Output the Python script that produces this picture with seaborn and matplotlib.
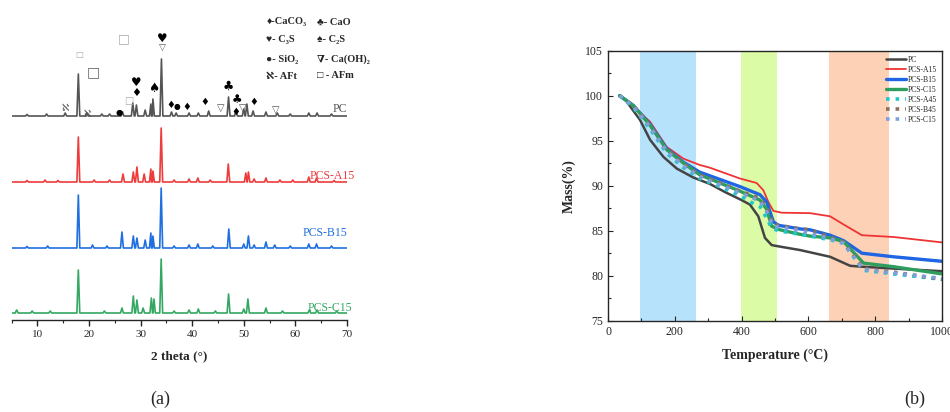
import numpy as np
import matplotlib
matplotlib.use("Agg")
import matplotlib.pyplot as plt
import seaborn as sns

# ---------------- XRD data (2 theta, peak height above baseline) ----------------
pc_pos = [8.0, 11.8, 15.4, 17.95, 19.6, 22.5, 24.0, 26.5, 28.5, 29.2, 30.9, 32.0, 32.4,
          34.05, 36.0, 36.9, 39.4, 41.2, 43.2, 47.05, 48.5, 50.0, 50.6, 51.8, 54.3,
          56.5, 59.0, 62.6, 64.2, 67.0]
pc_h = [1.5, 2, 3, 42, 3, 2, 2, 4, 13, 11, 6, 12, 17,
        57, 4, 3, 3, 3, 5, 19, 6, 7, 12, 5, 4,
        3, 2, 3, 3, 2]

a15_pos = [8.0, 11.5, 14.0, 17.95, 21.0, 24.0, 26.6, 28.6, 29.3, 30.7, 32.0, 32.4,
           34.0, 36.5, 39.4, 41.1, 43.5, 47.0, 50.4, 50.9, 52.0, 54.3, 57.0,
           59.5, 62.6, 64.1, 67.5]
a15_h = [1.5, 2, 1.5, 45, 2, 2, 8, 10, 15, 8, 13, 11,
         54, 2, 3, 4, 2, 18, 9, 10, 3, 4, 2,
         2, 5, 4, 1.5]

b15_pos = [8.0, 12.0, 17.95, 20.7, 23.5, 26.4, 28.6, 29.3, 30.9, 32.0, 32.4,
           34.0, 36.5, 39.4, 41.1, 44.0, 47.1, 50.0, 50.9, 52.0, 54.3, 56.0,
           59.0, 62.6, 64.1, 67.0]
b15_h = [1.5, 2, 53, 3, 2, 16, 12, 10, 8, 15, 12,
         60, 2, 3, 4, 2, 19, 4, 12, 3, 6, 3,
         2, 4, 4, 2]

c15_pos = [6.0, 9.0, 12.5, 17.95, 23.0, 26.4, 28.6, 29.3, 30.5, 32.1, 32.6,
           34.0, 36.5, 39.4, 41.2, 44.5, 47.05, 50.0, 50.8, 54.3, 57.5,
           62.7, 64.2, 68.0]
c15_h = [3, 2, 2, 43, 2, 5, 17, 13, 5, 15, 14,
         54, 2, 3, 4, 2, 19, 4, 14, 5, 2,
         3, 3, 2]

xrd_names = ["PC", "PCS-A15", "PCS-B15", "PCS-C15"]
xrd_offsets = [204, 138, 72, 7]
xrd_colors = ["#555555", "#ee3b3b", "#1f6fe0", "#34a862"]

# phase markers: (2 theta, height in panel units, glyph, size, colour)
marks = [
    (15.4, 212, "ℵ", 7, "#555555"), (19.6, 206, "ℵ", 7, "#555555"),
    (18.1, 265, "□", 6, "#aaaaaa"), (26.7, 281, "□", 9, "#aaaaaa"),
    (20.8, 248, "□", 10, "#666666"), (27.7, 219, "□", 7, "#aaaaaa"),
    (34.2, 281, "♥", 8.5, "black"), (34.2, 272, "▽", 6.5, "#555555"),
    (29.2, 238, "♥", 8.5, "black"), (29.2, 227, "♦", 8, "black"),
    (32.6, 231, "♠", 9, "black"), (25.9, 207, "●", 6, "black"),
    (35.8, 215, "♦", 7, "black"), (37.1, 213, "●", 5.5, "black"),
    (39.0, 213, "♦", 7, "black"), (42.5, 218, "♦", 7, "black"),
    (45.6, 212, "▽", 7, "#555555"), (47.0, 234, "♣", 9, "black"),
    (48.7, 220, "♣", 8.5, "black"), (48.4, 208, "♦", 7, "black"),
    (49.8, 212, "▽", 7, "#555555"), (52.0, 218, "♦", 7, "black"),
    (56.2, 210, "▽", 7, "#555555"),
]
phase_legend = [
    (54.4, 298, "♦-CaCO₃"), (64.1, 298, "♣- CaO"),
    (54.4, 280, "♥- C₃S"), (64.1, 280, "♠- C₂S"),
    (54.4, 261, "●- SiO₂"), (64.1, 261, "∇- Ca(OH)₂"),
    (54.4, 244, "ℵ- AFt"), (64.1, 244, "□ - AFm"),
]

# ---------------- TGA data (temperature, mass %) ----------------
tga = {
    "PC": ([35, 51, 96, 126, 166, 206, 256, 305, 350, 400, 425, 450, 470, 490, 520,
            575, 665, 725, 760, 850, 1000],
           [100, 99.6, 97.3, 95.1, 93.2, 91.9, 90.9, 90.2, 89.3, 88.4, 87.9, 86.6, 84.2,
            83.4, 83.2, 82.85, 82.1, 81.1, 81.0, 80.8, 80.5]),
    "PCS-A15": ([35, 76, 126, 176, 226, 275, 305, 350, 395, 445, 465, 480, 495, 520,
                 605, 665, 705, 760, 855, 1000],
                [100, 98.8, 97.1, 94.3, 93.0, 92.3, 92.0, 91.4, 90.8, 90.3, 89.5, 88.2,
                 87.2, 87.0, 86.95, 86.6, 85.7, 84.5, 84.3, 83.7]),
    "PCS-B15": ([35, 76, 126, 176, 226, 275, 335, 395, 455, 475, 495, 510, 575, 605,
                 665, 705, 760, 855, 1000],
                [100, 98.9, 96.8, 94.1, 92.6, 91.5, 90.7, 89.9, 89.0, 88.2, 86.0, 85.6,
                 85.2, 85.1, 84.5, 83.9, 82.5, 82.1, 81.6]),
    "PCS-C15": ([35, 76, 126, 176, 226, 275, 335, 395, 455, 475, 490, 515, 575, 605,
                 665, 705, 765, 855, 1000],
                [100, 98.9, 96.7, 94.0, 92.5, 91.2, 90.3, 89.4, 88.4, 87.4, 85.5, 85.1,
                 84.6, 84.4, 84.2, 83.8, 81.4, 81.0, 80.2]),
    "PCS-A45": ([35, 76, 126, 176, 226, 275, 335, 395, 425, 455, 475, 490, 510, 575,
                 665, 705, 765, 855, 1000],
                [100, 98.7, 96.3, 93.6, 92.0, 90.8, 89.9, 88.9, 88.2, 87.7, 86.4, 85.3,
                 85.0, 84.6, 84.0, 83.6, 80.6, 80.2, 79.6]),
    "PCS-B45": ([35, 76, 126, 176, 226, 275, 335, 395, 455, 475, 495, 575, 605, 665,
                 705, 765, 855, 1000],
                [100, 98.9, 96.6, 93.9, 92.4, 91.2, 90.3, 89.4, 88.6, 87.6, 85.7, 85.2,
                 85.1, 84.3, 83.7, 80.8, 80.4, 79.6]),
    "PCS-C15 ": ([35, 76, 126, 176, 226, 275, 335, 395, 455, 475, 495, 575, 665, 705,
                  765, 855, 1000],
                 [100, 98.8, 96.5, 93.8, 92.2, 91.0, 90.1, 89.2, 88.3, 87.1, 85.5, 85.0,
                  84.1, 83.6, 80.7, 80.3, 79.7]),
}
tga_styles = {
    "PC": ("#444444", 1.8, "-"),
    "PCS-A15": ("#ee3333", 1.3, "-"),
    "PCS-B15": ("#1f66e5", 2.4, "-"),
    "PCS-C15": ("#2e9e5e", 2.4, "-"),
    "PCS-A45": ("#1fc8c8", 2.6, ":"),
    "PCS-B45": ("#8b6f5e", 2.6, ":"),
    "PCS-C15 ": ("#7fa0e0", 2.6, ":"),
}
spans = [(95, 262, "#b7e2fb"), (398, 505, "#dcfba6"), (663, 840, "#fdd1b5")]

# ---------------- figure ----------------
sns.set_style("ticks")
serif = ["Liberation Serif", "DejaVu Serif", "DejaVu Sans"]
plt.rcParams["font.family"] = serif
plt.rcParams["axes.unicode_minus"] = False

fig = plt.figure(figsize=(9.5, 4.12), dpi=100)
W, H = 950, 412

# (a) XRD
ax1 = fig.add_axes([11.5 / W, (H - 320) / H, (347 - 11.5) / W, 310 / H])


def pattern(pos, hts, offset, hw=0.28):
    xs = [5.0, 70.0]
    ys = [offset, offset]
    for p, h in zip(pos, hts):
        xs += [p - hw, p, p + hw]
        ys += [offset, offset + h, offset]
    order = np.argsort(xs)
    return np.array(xs)[order], np.array(ys)[order]


xrd_peaks = [(pc_pos, pc_h), (a15_pos, a15_h), (b15_pos, b15_h), (c15_pos, c15_h)]
for (pos, hts), off, col in zip(xrd_peaks, xrd_offsets, xrd_colors):
    xs, ys = pattern(pos, hts, off)
    sns.lineplot(x=xs, y=ys, ax=ax1, color=col, lw=1.2, sort=False, estimator=None)

label_pos = [(70.1, 211), (71.6, 144), (70.0, 87), (71.1, 12)]
for (lx, ly), name, col in zip(label_pos, xrd_names, xrd_colors):
    ax1.text(lx, ly, name, color=col, ha="right", va="center", fontsize=8.5)

for x, y, s, sz, c in marks:
    ax1.text(x, y, s, ha="center", va="center", fontsize=sz, color=c,
             family=["DejaVu Sans"])

for x, y, s in phase_legend:
    ax1.text(x, y, s, ha="left", va="center", fontsize=7.5, fontweight="bold",
             family=serif)

ax1.set_xlim(5, 70)
ax1.set_ylim(0, 310)
ax1.set_xticks(range(10, 71, 10))
ax1.set_xticks(range(5, 71, 5), minor=True)
ax1.set_yticks([])
for side in ["left", "right", "top"]:
    ax1.spines[side].set_visible(False)
ax1.spines["bottom"].set_linewidth(1.0)
ax1.tick_params(axis="x", direction="out", length=4, width=1, labelsize=8, pad=3)
ax1.tick_params(axis="x", which="minor", direction="out", length=2.5, width=0.8)
ax1.set_xlabel("2 theta (°)", fontsize=9.5, fontweight="bold", labelpad=8)

# (b) TGA
ax2 = fig.add_axes([608 / W, (H - 320.7) / H, (942 - 608) / W, 270 / H])
for x0, x1, c in spans:
    ax2.axvspan(x0, x1, color=c, lw=0, zorder=0)
for name, (t, m) in tga.items():
    col, lw, ls = tga_styles[name]
    sns.lineplot(x=t, y=m, ax=ax2, color=col, lw=lw, ls=ls, label=name.strip(),
                 sort=False, estimator=None)
ax2.set_xlim(0, 1000)
ax2.set_ylim(75, 105)
ax2.set_xticks(range(0, 1001, 200))
ax2.set_xticks(range(0, 1001, 100), minor=True)
ax2.set_yticks(range(75, 106, 5))
ax2.set_yticks(np.arange(75, 105.1, 2.5), minor=True)
ax2.tick_params(which="both", direction="in", labelsize=8.5, width=0.8)
ax2.tick_params(which="major", length=3.5)
ax2.tick_params(which="minor", length=2)
for s in ax2.spines.values():
    s.set_linewidth(1.0)
ax2.set_xlabel("Temperature (°C)", fontsize=10, fontweight="bold", labelpad=8)
ax2.set_ylabel("Mass(%)", fontsize=10, fontweight="bold", labelpad=7)
leg = ax2.legend(loc="upper right", bbox_to_anchor=(1.0, 1.0), frameon=False,
                 fontsize=5.5, handlelength=2.6, labelspacing=0.25,
                 handletextpad=0.2, borderaxespad=0.3)

fig.text(160 / W, 1 - 399 / H, "(a)", fontsize=13, ha="center", va="center")
fig.text(915 / W, 1 - 399 / H, "(b)", fontsize=13, ha="center", va="center")

fig.savefig("out.png", dpi=100)
